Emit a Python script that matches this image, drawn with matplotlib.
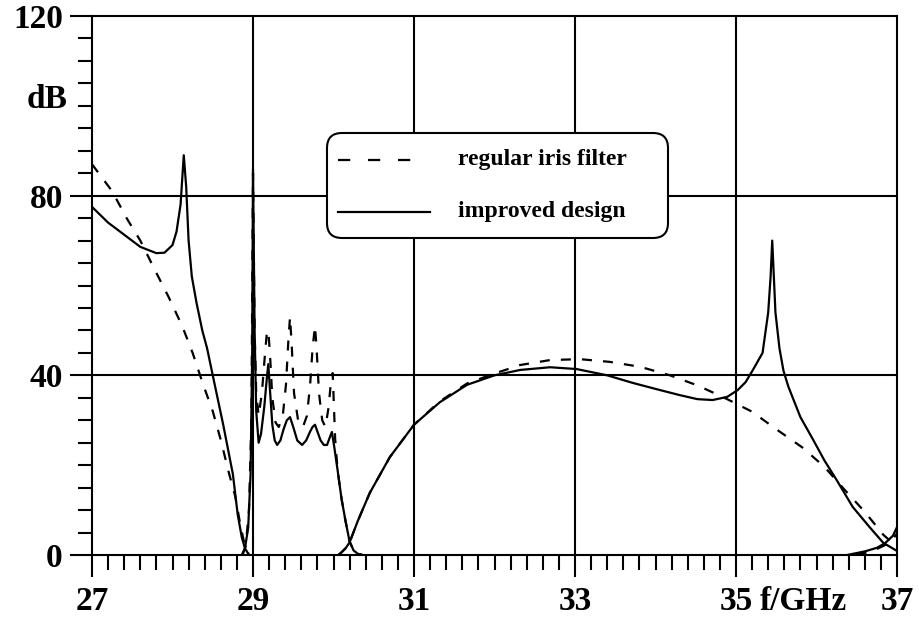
import matplotlib
matplotlib.use("Agg")
import matplotlib.pyplot as plt
from matplotlib.patches import FancyBboxPatch
from matplotlib.lines import Line2D
from matplotlib.ticker import MultipleLocator
import matplotlib.transforms as mtransforms

# ---------------- data ----------------
# improved design (solid)
improved_low_f = [27.0, 27.2, 27.4, 27.6, 27.8, 27.9, 28.0, 28.05, 28.1, 28.14, 28.17,
                  28.2, 28.24, 28.3, 28.37, 28.43, 28.5, 28.63, 28.75, 28.81, 28.86,
                  28.9, 28.95]
improved_low_db = [77.5, 74, 71.3, 68.6, 67.2, 67.3, 69, 72, 78, 89, 82,
                   70, 62, 56, 50, 46, 40, 29, 18, 9, 4,
                   1.5, 0]

improved_pass_f = [28.86, 28.9, 28.94, 28.97, 28.99, 29.0, 29.02, 29.04, 29.07, 29.1,
                   29.14, 29.17, 29.19, 29.21, 29.24, 29.27, 29.3, 29.34, 29.38, 29.42,
                   29.46, 29.5, 29.55, 29.61, 29.66, 29.71, 29.74, 29.77, 29.8, 29.84,
                   29.88, 29.92, 29.95, 29.98, 30.01, 30.05, 30.1, 30.15, 30.2, 30.25,
                   30.3, 30.36]
improved_pass_db = [0, 1.5, 6, 18, 45, 86, 50, 32, 25, 27,
                    33, 39, 42.5, 37, 29, 25.5, 24.5, 25.5, 28, 30,
                    30.7, 28.5, 25.5, 24.5, 25.5, 27.5, 28.5, 29, 27.5, 25.5,
                    24.5, 24.5, 26, 27.4, 24, 19, 12.5, 7.5, 3, 1,
                    0.3, 0]

improved_upper_f = [30.06, 30.1, 30.15, 30.2, 30.3, 30.45, 30.7, 31.0, 31.32, 31.66,
                    32.0, 32.32, 32.69, 33.02, 33.4, 33.72, 34.06, 34.3, 34.52, 34.71,
                    34.89, 35.02, 35.12, 35.21, 35.33, 35.4, 35.43, 35.45, 35.47, 35.49,
                    35.54, 35.59, 35.65, 35.8, 35.96, 36.1, 36.25, 36.45, 36.66, 36.83,
                    37.0]
improved_upper_db = [0, 0.6, 1.5, 2.8, 7.5, 13.8, 21.8, 29, 34, 37.9,
                     40, 41.2, 41.8, 41.4, 40, 38.3, 36.7, 35.6, 34.7, 34.5,
                     35.2, 36.7, 38.5, 41.2, 45, 54, 62, 70, 62, 54,
                     46, 41, 37.5, 30.7, 25.6, 21, 16.7, 10.7, 6.2, 2.7,
                     0.9]

improved_right_f = [36.38, 36.6, 36.75, 36.85, 36.95, 37.0]
improved_right_db = [0, 0.8, 1.6, 2.6, 4.3, 6.2]

# regular iris filter (dashed)
regular_low_f = [27.0, 27.25, 27.43, 27.6, 27.78, 27.95, 28.12, 28.25, 28.38, 28.5,
                 28.6, 28.69, 28.78, 28.85, 28.9, 28.95]
regular_low_db = [87, 81, 75, 70, 63.5, 57.5, 51, 45, 38, 32,
                  25.6, 19, 13, 6, 2, 0]

regular_pass_f = [28.87, 28.91, 28.95, 28.98, 29.0, 29.02, 29.04, 29.07, 29.11, 29.15,
                  29.17, 29.19, 29.21, 29.24, 29.28, 29.32, 29.37, 29.41, 29.44, 29.46,
                  29.48, 29.51, 29.56, 29.62, 29.67, 29.71, 29.74, 29.77, 29.79, 29.82,
                  29.86, 29.9, 29.94, 29.97, 29.99, 30.02, 30.05, 30.1, 30.15, 30.2,
                  30.25, 30.3, 30.36]
regular_pass_db = [0, 2, 10, 30, 85, 50, 36, 31, 36, 45,
                   49, 50, 45, 35, 29.5, 28.5, 31, 38, 48, 53,
                   47, 36, 30, 28.5, 31, 38, 46, 51, 46, 36,
                   30, 28.5, 33, 39, 40.5, 26, 19, 12.5, 7.5, 3,
                   1, 0.3, 0]

regular_upper_f = [30.06, 30.1, 30.15, 30.2, 30.3, 30.45, 30.7, 31.0, 31.32, 31.66,
                   32.0, 32.32, 32.69, 33.06, 33.43, 33.81, 34.18, 34.53, 34.89, 35.2,
                   35.5, 35.82, 36.1, 36.35, 36.6, 36.83, 37.0]
regular_upper_db = [0, 0.6, 1.5, 2.8, 7.5, 13.8, 21.8, 29, 34.2, 38.2,
                    40.4, 42.3, 43.4, 43.6, 43, 41.9, 40, 37.7, 34.7, 31.9,
                    28, 24, 19.6, 14.5, 9.6, 4.5, 1.8]

regular_right_f = [36.5, 36.7, 36.85, 36.95, 37.0]
regular_right_db = [0, 0.9, 2.2, 3.6, 4.8]

x_ticks = [27, 29, 31, 33, 35, 37]
x_tick_labels = ["27", "29", "31", "33", "35", "37"]
y_ticks = [0, 40, 80, 120]
y_tick_labels = ["0", "40", "80", "120"]
x_unit_label = "f/GHz"
y_unit_label = "dB"
legend_labels = ["regular iris filter", "improved design"]

# ---------------- figure ----------------
W, H = 920, 619
fig = plt.figure(figsize=(W / 100, H / 100), dpi=100)
fig.patch.set_facecolor("white")
ax = fig.add_axes([92 / W, 1 - 555 / H, (897 - 92) / W, (555 - 16) / H])

FONT = "Liberation Serif"
LW = 1.5

ax.set_xlim(27, 37)
ax.set_ylim(0, 120)

# grid
for gx in [29, 31, 33, 35]:
    ax.axvline(gx, color="black", lw=LW, zorder=1)
for gy in [40, 80]:
    ax.axhline(gy, color="black", lw=LW, zorder=1)

dash = (4.5, 5)
segs_reg = [(regular_low_f, regular_low_db), (regular_pass_f, regular_pass_db),
            (regular_upper_f, regular_upper_db), (regular_right_f, regular_right_db)]
segs_imp = [(improved_low_f, improved_low_db), (improved_pass_f, improved_pass_db),
            (improved_upper_f, improved_upper_db), (improved_right_f, improved_right_db)]
for f, d in segs_reg:
    ax.plot(f, d, color="black", lw=1.6, dashes=dash, zorder=2)
for f, d in segs_imp:
    ax.plot(f, d, color="black", lw=1.6, zorder=3)

for s in ax.spines.values():
    s.set_linewidth(LW)

X_MAJ, X_PAD = 16, 6.5
Y_MAJ, Y_PAD = 16, 5
ax.set_xticks(x_ticks)
ax.set_xticklabels(x_tick_labels)
ax.set_yticks(y_ticks)
ax.set_yticklabels(y_tick_labels)
ax.xaxis.set_minor_locator(MultipleLocator(0.2))
ax.yaxis.set_minor_locator(MultipleLocator(5))
ax.tick_params(axis="x", which="major", direction="out", length=X_MAJ, width=LW, pad=X_PAD)
ax.tick_params(axis="x", which="minor", direction="out", length=11, width=LW)
ax.tick_params(axis="y", which="major", direction="out", length=Y_MAJ, width=LW, pad=Y_PAD)
ax.tick_params(axis="y", which="minor", direction="out", length=10, width=LW)
for lab in ax.get_xticklabels() + ax.get_yticklabels():
    lab.set_fontfamily(FONT)
    lab.set_fontweight("bold")
    lab.set_fontsize(24)

# unit labels
offx = mtransforms.offset_copy(ax.transData, fig=fig, x=-(Y_MAJ + 2), y=0, units="points")
ax.text(27, 101.5, y_unit_label, transform=offx, ha="right", va="center",
        fontfamily=FONT, fontweight="bold", fontsize=24)
xt = mtransforms.blended_transform_factory(ax.transData, ax.transAxes)
offy = mtransforms.offset_copy(xt, fig=fig, x=0, y=-(X_MAJ + X_PAD), units="points")
ax.text(35.84, 0, x_unit_label, transform=offy, ha="center", va="top",
        fontfamily=FONT, fontweight="bold", fontsize=24)

# legend box (pixel-based, in inches)
tr = fig.dpi_scale_trans
def px(x, y):
    return x / 100, (H - y) / 100
bx0, by0 = px(327, 238)
bx1, by1 = px(668, 133)
box = FancyBboxPatch((bx0, by0), bx1 - bx0, by1 - by0,
                     boxstyle="round,pad=0,rounding_size=0.15",
                     transform=tr, facecolor="white", edgecolor="black",
                     lw=LW, zorder=10)
fig.patches.append(box)
x0, y0 = px(338, 160)
x1, _ = px(412, 160)
fig.lines.append(Line2D([x0, x1], [y0, y0], transform=tr, color="black", lw=1.6,
                        dashes=(5.5, 8), zorder=11))
x0, y1 = px(338, 212)
x1, _ = px(430, 212)
fig.lines.append(Line2D([x0, x1], [y1, y1], transform=tr, color="black", lw=1.6,
                        zorder=11))
tx, _ = px(458, 0)
fig.text(tx, y0, legend_labels[0], transform=tr, ha="left", va="center",
         fontfamily=FONT, fontweight="bold", fontsize=17, zorder=12)
fig.text(tx, y1, legend_labels[1], transform=tr, ha="left", va="center",
         fontfamily=FONT, fontweight="bold", fontsize=17, zorder=12)

fig.savefig("out.png", dpi=100, facecolor="white")
